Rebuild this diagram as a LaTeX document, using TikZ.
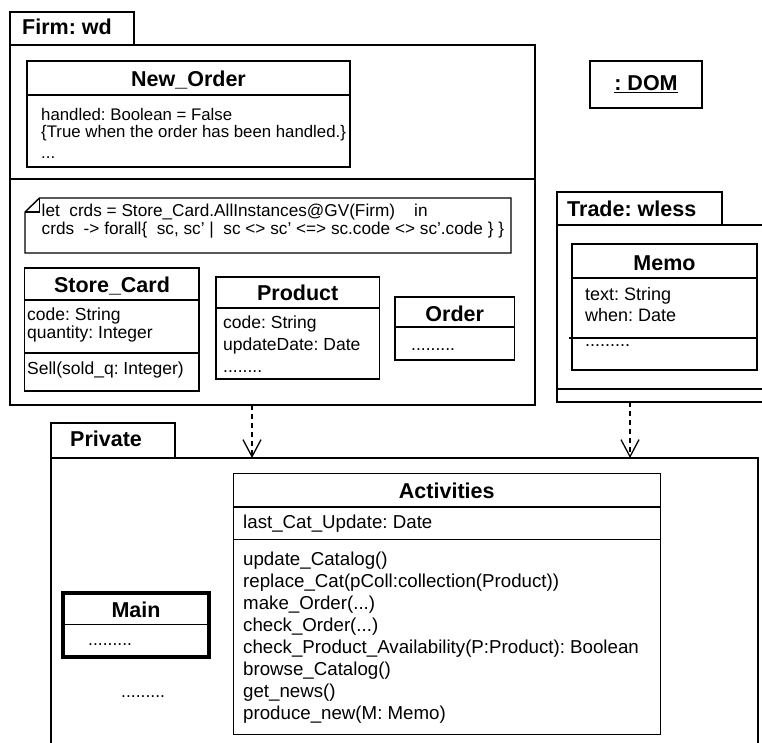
\documentclass[tikz,border=0pt]{standalone}
\usepackage{fontspec}
\setmainfont{Liberation Sans}
\usetikzlibrary{arrows.meta}
\frenchspacing

\newcommand\fsz[1]{\fontsize{#1}{#1}\selectfont}

\begin{document}
\begin{tikzpicture}[x=1pt,y=-1pt,
  frame/.style={draw, line width=1.4pt, outer sep=0pt, inner sep=0pt, anchor=north west, fill=white},
  rule/.style={line width=1.4pt},
  ttl/.style={font=\fsz{21.5}\bfseries, anchor=base, inner sep=0pt},
  lbl/.style={font=\fsz{21.5}\bfseries, anchor=base west, inner sep=0pt},
  attr/.style={anchor=base west, inner sep=0pt, font=\fsz{17.5}},
  dep/.style={line width=1.3pt, dash pattern=on 5pt off 4pt,
    -{Straight Barb[length=17pt,width=18pt,line width=1.3pt]}},
]
\useasboundingbox (0,0) rectangle (762,742);
\fill[white] (0,0) rectangle (762,742);
\clip (0,0) rectangle (762,742);

% ---------- package Firm: wd ----------
\node[frame, minimum width=124pt, minimum height=33pt] (firmtab) at (10,12) {};
\node[lbl] (firmlbl) at (22,34.5) {Firm: wd};
\node[frame, minimum width=525pt, minimum height=360pt] (firm) at (10,45) {};
\draw[rule] (10,179) -- (535,179);

% class New_Order
\node[frame, minimum width=323pt, minimum height=106pt] (neworder) at (27,61) {};
\draw[rule] (27,95) -- (350,95);
\node[ttl] (neworderttl) at (188.5,86) {New\_Order};
\node[attr, font=\fsz{16.8}] (no1) at (41,120.7) {handled: Boolean = False};
\node[attr, font=\fsz{16.8}] (no2) at (41,137.3) {\{True when the order has been handled.\}};
\node[attr, font=\fsz{16.8}] (no3) at (41,158.5) {...};

% constraint note
\draw[rule, fill=white] (25,212) -- (39.5,198) -- (511,198) -- (511,253) -- (25,253) -- cycle;
\draw[rule] (25,212) -- (39.5,212) -- (39.5,198);
\node[attr, font=\fsz{17.2}] (ocl1) at (41.5,216) {let~~crds = Store\_Card.AllInstances@GV(Firm)~~~~in};
\node[attr, font=\fsz{17.2}] (ocl2) at (41.5,234) {crds~~-> forall\{~~sc, sc'~|~~sc <> sc' <=> sc.code <> sc'.code \} \}};

% class Store_Card
\node[frame, minimum width=174.5pt, minimum height=123pt] (storecard) at (24.5,268) {};
\draw[rule] (24.5,300) -- (199,300);
\draw[rule] (24.5,353) -- (199,353);
\node[ttl] (storecardttl) at (112,292) {Store\_Card};
\node[attr] (sc1) at (27,320) {code: String};
\node[attr] (sc2) at (27,338) {quantity: Integer};
\node[attr] (sc3) at (27,374) {Sell(sold\_q: Integer)};

% class Product
\node[frame, minimum width=163.5pt, minimum height=102pt] (product) at (216,277) {};
\draw[rule] (216,308) -- (379.5,308);
\node[ttl] (productttl) at (297.7,300) {Product};
\node[attr] (pr1) at (223,328) {code: String};
\node[attr] (pr2) at (223,350) {updateDate: Date};
\node[attr] (pr3) at (223,372) {........};

% class Order
\node[frame, minimum width=119.5pt, minimum height=63pt] (order) at (395,297) {};
\draw[rule] (395,327) -- (514.5,327);
\node[ttl] (orderttl) at (454.7,321.7) {Order};
\node[attr] (or1) at (411,350) {.........};

% ---------- object :DOM ----------
\node[frame, minimum width=112pt, minimum height=47pt] (dom) at (590,61) {};
\node[ttl] (domttl) at (646,90) {: DOM};
\draw[rule] ([yshift=-2.5pt]domttl.base west) -- ([yshift=-2.5pt]domttl.base east);

% ---------- package Trade: wless ----------
\node[frame, minimum width=165pt, minimum height=33pt] (tradetab) at (557,192) {};
\node[lbl] (tradelbl) at (567,216) {Trade: wless};
\node[frame, minimum width=240pt, minimum height=177pt] (trade) at (557,225) {};
\draw[rule] (557,389) -- (797,389);

% class Memo
\node[frame, minimum width=185pt, minimum height=126pt] (memo) at (572,244) {};
\draw[rule] (572,278) -- (757,278);
\draw[rule] (569,338) -- (757,338);
\node[ttl] (memottl) at (664.5,270) {Memo};
\node[attr, font=\fsz{18}] (me1) at (585,300) {text: String};
\node[attr, font=\fsz{18}] (me2) at (585,321.7) {when: Date};
\node[attr, font=\fsz{18}] (me3) at (585,346.7) {.........};

% ---------- package Private ----------
\node[frame, minimum width=124pt, minimum height=35pt] (privtab) at (51,423) {};
\node[lbl] (privlbl) at (70,446.7) {Private};
\node[frame, minimum width=707pt, minimum height=320pt] (private) at (51,458) {};

% class Activities
\node[frame, line width=1pt, minimum width=427.5pt, minimum height=261pt] (activities) at (233,473) {};
\draw[line width=1.8pt] (233,507) -- (660.5,507);
\draw[line width=1pt] (233,539.5) -- (660.5,539.5);
\node[ttl] (activitiesttl) at (446.75,498) {Activities};
\begin{scope}[every node/.style={attr, font=\fsz{18.7}}]
\node (ac0) at (243,528.5) {last\_Cat\_Update: Date};
\node (ac1) at (243,565) {update\_Catalog()};
\node (ac2) at (243,587) {replace\_Cat(pColl:collection(Product))};
\node (ac3) at (243,609) {make\_Order(...)};
\node (ac4) at (243,631) {check\_Order(...)};
\node (ac5) at (243,653) {check\_Product\_Availability(P:Product): Boolean};
\node (ac6) at (243,675.3) {browse\_Catalog()};
\node (ac7) at (243,697.3) {get\_news()};
\node (ac8) at (243,719.6) {produce\_new(M: Memo)};
\end{scope}

% active class Main
\node[frame, line width=4pt, minimum width=146pt, minimum height=64pt] (main) at (63,593) {};
\draw[line width=1.5pt] (63,624.5) -- (209,624.5);
\node[ttl] (mainttl) at (136,617) {Main};
\node[attr] (ma1) at (88,645) {.........};
\node[attr] (pv1) at (121,697.7) {.........};

% ---------- dependencies ----------
\coordinate (ax1) at (252,0);
\coordinate (ax2) at (630,0);
\draw[dep] (firm.south -| ax1) -- (private.north -| ax1);
\draw[dep] (trade.south -| ax2) -- (private.north -| ax2);
\end{tikzpicture}
\end{document}
